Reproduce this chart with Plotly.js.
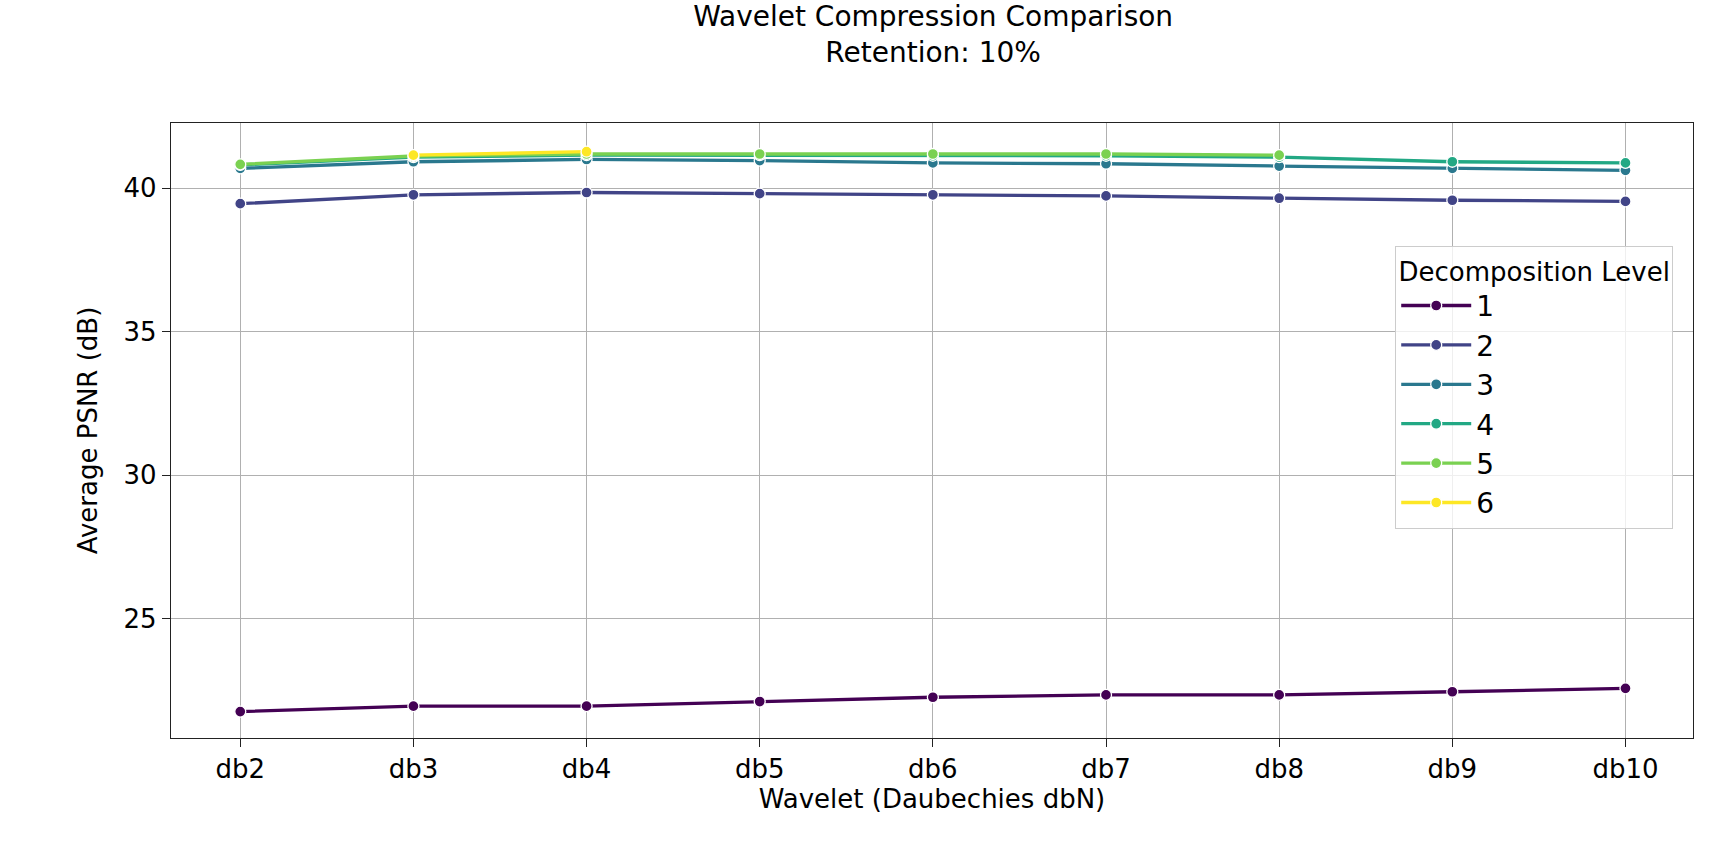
<!DOCTYPE html>
<html><head><meta charset="utf-8">
<script src="https://cdn.plot.ly/plotly-3.0.1.min.js"></script>
<style>body{margin:0;background:#fff}</style></head>
<body><div id="chart" style="width:1728px;height:864px"></div>
<script>
const wavelets = ['db2','db3','db4','db5','db6','db7','db8','db9','db10'];
const level1 = [21.77, 21.96, 21.96, 22.12, 22.27, 22.35, 22.35, 22.46, 22.58];
const level2 = [39.46, 39.77, 39.85, 39.81, 39.77, 39.73, 39.65, 39.58, 39.54];
const level3 = [40.69, 40.92, 41.00, 40.96, 40.88, 40.85, 40.77, 40.69, 40.62];
const level4 = [40.81, 41.08, 41.15, 41.15, 41.13, 41.13, 41.08, 40.92, 40.88];
const level5 = [40.83, 41.12, 41.19, 41.19, 41.19, 41.19, 41.15];
const level6 = [null, 41.15, 41.27];
const levelNames = ['1','2','3','4','5','6'];
const levelColors = ['#440154','#414487','#2a788e','#22a884','#7ad151','#fde725'];
const series = [level1, level2, level3, level4, level5, level6];

const traces = series.map((vals, i) => ({
  type: 'scatter', mode: 'lines+markers', name: levelNames[i],
  x: wavelets.slice(0, vals.length), y: vals,
  line: { color: levelColors[i], width: 3.3 },
  marker: { color: levelColors[i], size: 11, line: { color: '#fff', width: 1.3 } },
}));

const layout = {
  width: 1728, height: 864,
  paper_bgcolor: '#fff', plot_bgcolor: '#fff',
  font: { family: 'DejaVu Sans, sans-serif', color: '#000', size: 26 },
  margin: { l: 171, r: 35, t: 123, b: 126 },
  title: { text: 'Wavelet Compression Comparison<br>Retention: 10%', x: 0.54, xanchor: 'center', y: 0.97, yanchor: 'top', font: { size: 28 } },
  xaxis: {
    type: 'category', range: [-0.4, 8.39], showgrid: true, gridcolor: '#b0b0b0', gridwidth: 1.2,
    showline: true, mirror: true, linecolor: '#222', linewidth: 1.3,
    ticks: 'outside', ticklen: 8, tickcolor: '#222', zeroline: false,
    title: { text: 'Wavelet (Daubechies dbN)', font: { size: 26 }, standoff: 6 },
  },
  yaxis: {
    range: [20.85, 42.27], tickvals: [25, 30, 35, 40], showgrid: true, gridcolor: '#b0b0b0', gridwidth: 1.2,
    showline: true, mirror: true, linecolor: '#222', linewidth: 1.3,
    ticks: 'outside', ticklen: 8, tickcolor: '#222', zeroline: false,
    title: { text: 'Average PSNR (dB)', font: { size: 26 }, standoff: 18 },
  },
  legend: {
    x: 0.987, xanchor: 'right', y: 0.80, yanchor: 'top',
    bgcolor: 'rgba(255,255,255,0.8)', bordercolor: '#ccc', borderwidth: 1,
    title: { text: 'Decomposition Level', font: { size: 26 }, side: 'top center' },
    font: { size: 28 }, itemwidth: 70, tracegroupgap: 0,
  },
};
Plotly.newPlot('chart', traces, layout, { displayModeBar: false });
</script></body></html>
